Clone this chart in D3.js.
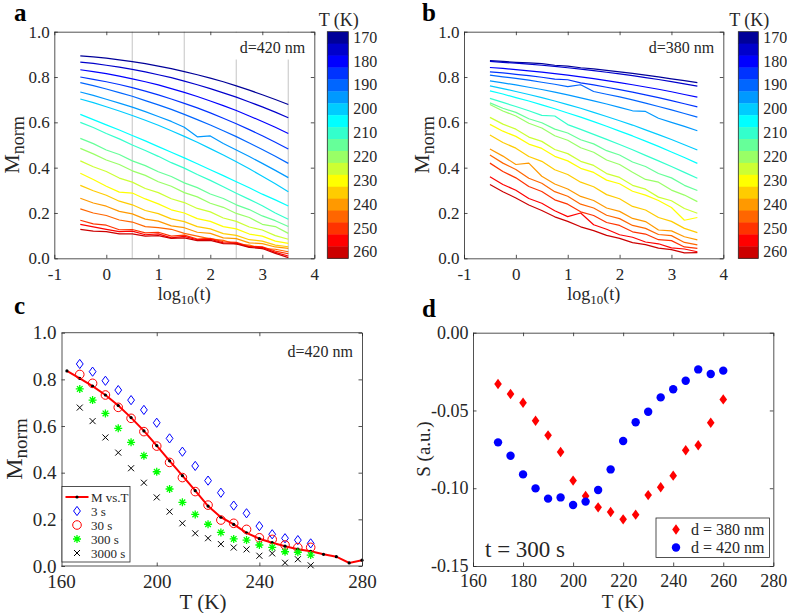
<!DOCTYPE html>
<html><head><meta charset="utf-8">
<script src="https://cdn.jsdelivr.net/npm/d3@7"></script>
<style>body{margin:0;background:#fff}</style>
</head><body><svg id="c" width="787" height="613"></svg>
<script>
// ---------------- DATA ----------------
const temps = [170,175,180,185,190,195,200,205,210,215,220,225,230,235,240,245,250,255,260];
const logT = [-0.5,-0.25,0,0.25,0.5,0.75,1,1.25,1.5,1.75,2,2.25,2.5,2.75,3,3.25,3.5];
// panel a, d = 420 nm  (one row per temperature)
const curvesA = [
 [.893,.889,.883,.876,.868,.859,.848,.837,.824,.810,.795,.779,.761,.742,.722,.701,.679],
 [.866,.860,.852,.844,.834,.823,.810,.797,.782,.766,.749,.730,.711,.690,.668,.645,.620],
 [.832,.824,.815,.804,.792,.779,.765,.749,.732,.714,.694,.674,.652,.628,.604,.578,.551],
 [.800,.790,.779,.767,.753,.738,.721,.703,.684,.664,.642,.618,.594,.568,.541,.512,.482],
 [.775,.762,.747,.731,.715,.696,.677,.657,.635,.612,.588,.563,.537,.509,.480,.450,.419],
 [.734,.719,.702,.685,.667,.647,.626,.604,.578,.536,.540,.507,.478,.449,.419,.388,.356],
 [.703,.687,.669,.650,.630,.609,.587,.563,.538,.512,.484,.456,.426,.395,.362,.329,.294],
 [.635,.612,.589,.566,.542,.518,.493,.468,.443,.417,.391,.365,.338,.311,.283,.258,.231],
 [.600,.577,.551,.527,.500,.476,.450,.422,.398,.370,.344,.316,.287,.260,.232,.200,.172],
 [.529,.506,.478,.458,.430,.409,.382,.361,.333,.312,.284,.264,.236,.215,.187,.166,.140],
 [.485,.461,.434,.414,.386,.366,.338,.318,.290,.271,.243,.225,.198,.180,.150,.140,.110],
 [.430,.404,.383,.354,.336,.308,.290,.263,.246,.220,.205,.178,.163,.138,.125,.100,.084],
 [.375,.348,.318,.292,.288,.262,.240,.214,.200,.175,.163,.140,.130,.107,.098,.076,.066],
 [.322,.298,.278,.252,.236,.211,.197,.174,.162,.140,.130,.109,.101,.082,.076,.058,.051],
 [.265,.244,.230,.207,.196,.173,.164,.143,.135,.115,.110,.090,.087,.068,.065,.050,.044],
 [.218,.200,.189,.169,.160,.140,.135,.128,.110,.098,.086,.079,.062,.058,.043,.040,.029],
 [.168,.152,.146,.126,.127,.112,.115,.098,.102,.085,.088,.073,.070,.053,.051,.032,.020],
 [.150,.139,.128,.118,.120,.104,.108,.090,.097,.082,.084,.068,.067,.050,.048,.026,.010],
 [.128,.120,.118,.108,.108,.098,.100,.088,.090,.078,.079,.065,.064,.048,.043,.022,.003]
];
// panel b, d = 380 nm
const curvesB = [
 [.872,.869,.865,.862,.859,.852,.848,.841,.836,.829,.823,.816,.808,.801,.792,.784,.775],
 [.869,.865,.861,.857,.852,.847,.841,.835,.828,.821,.814,.806,.797,.789,.780,.770,.760],
 [.842,.838,.833,.827,.822,.815,.808,.801,.793,.784,.775,.766,.756,.746,.735,.723,.711],
 [.823,.818,.812,.806,.799,.791,.788,.774,.765,.755,.744,.733,.721,.709,.696,.682,.668],
 [.808,.801,.794,.786,.777,.768,.758,.766,.736,.724,.712,.699,.685,.670,.655,.639,.623],
 [.783,.774,.765,.755,.745,.733,.721,.708,.695,.681,.666,.651,.648,.618,.600,.582,.563],
 [.761,.749,.736,.723,.709,.694,.678,.662,.644,.626,.607,.588,.567,.546,.524,.501,.478],
 [.739,.725,.709,.694,.677,.660,.641,.623,.603,.583,.561,.540,.517,.494,.469,.445,.419],
 [.706,.688,.670,.651,.631,.628,.590,.569,.547,.525,.502,.479,.454,.430,.405,.379,.353],
 [.686,.662,.644,.616,.598,.570,.553,.523,.505,.475,.456,.425,.405,.374,.355,.322,.299],
 [.679,.650,.628,.596,.575,.541,.521,.488,.468,.434,.414,.380,.348,.336,.301,.279,.250],
 [.622,.592,.570,.535,.516,.480,.462,.428,.410,.374,.357,.322,.305,.270,.254,.220,.199],
 [.591,.561,.538,.504,.485,.450,.430,.397,.379,.345,.329,.296,.279,.255,.224,.168,.180],
 [.544,.511,.486,.449,.428,.391,.370,.336,.316,.281,.263,.229,.213,.180,.163,.132,.113],
 [.482,.451,.414,.420,.362,.328,.306,.273,.255,.222,.207,.176,.162,.125,.121,.095,.081],
 [.456,.420,.392,.353,.331,.294,.274,.239,.222,.190,.175,.145,.132,.105,.100,.070,.059],
 [.420,.383,.355,.317,.295,.258,.239,.205,.189,.158,.145,.117,.107,.082,.078,.050,.044],
 [.360,.326,.300,.264,.243,.210,.184,.200,.148,.128,.104,.093,.072,.064,.046,.041,.029],
 [.326,.294,.266,.235,.211,.183,.163,.139,.122,.101,.088,.069,.060,.045,.038,.024,.025]
];
const logTicks = [-1,0,1,2,3,4];
const mTicks = [0,0.2,0.4,0.6,0.8,1.0];
const guideLogT = [0.5,1.5,2.5,3.5];
const cbLabels = [170,180,190,200,210,220,230,240,250,260];

// panel c
const tMvT = [165,170,175,180,185,190,195,200,205,210,215,220,225,230,235,240,245,250,255,260,265,270,275,280];
const mVsT = [.836,.804,.771,.733,.688,.636,.579,.516,.451,.387,.323,.257,.209,.178,.142,.117,.100,.085,.072,.063,.050,.040,.013,.025];
const tPts = [170,175,180,185,190,195,200,205,210,215,220,225,230,235,240,245,250,255,260];
const m3s    = [.866,.833,.794,.754,.711,.669,.614,.547,.490,.429,.366,.314,.259,.226,.171,.136,.119,.111,.097];
const m30s   = [.821,.783,.733,.680,.633,.576,.514,.444,.379,.319,.261,.197,.183,.157,.121,.114,.090,.079,.080];
const m300s  = [.759,.711,.654,.590,.530,.473,.404,.330,.273,.221,.179,.144,.116,.111,.090,.080,.061,.059,.047];
const m3000s = [.679,.621,.551,.486,.419,.357,.294,.233,.183,.140,.119,.094,.079,.071,.044,.054,.014,.029,.003];
const tTicksC = [160,200,240,280];

// panel d
const s380 = [-.0330,-.0394,-.0450,-.0566,-.0660,-.0767,-.0951,-.1050,-.1123,-.1153,-.1200,-.1170,-.1044,-.0994,-.0919,-.0756,-.0724,-.0579,-.0429];
const s420 = [-.0705,-.0791,-.0911,-.1001,-.1067,-.1059,-.1108,-.1086,-.1011,-.0879,-.0696,-.0576,-.0508,-.0416,-.0364,-.0309,-.0236,-.0266,-.0244];
const tTicksD = [160,180,200,220,240,260,280];
const sTicks = [0,-0.05,-0.10,-0.15];

// ---------------- STYLE ----------------
const SERIF = '"Liberation Serif","Times New Roman",serif';
const AX = '#262626';
const jet = ["#000099","#0000cc","#0000ff","#0033ff","#0066ff","#0099ff","#00ccff","#00ffff","#33ffcc","#66ff99","#99ff66","#ccff33","#ffff00","#ffcc00","#ff9900","#ff6600","#ff3300","#ff0000","#cc0000"];
const hy = f => d => f(d).replace('\u2212', '-');

const svg = d3.select('#c');
svg.append('rect').attr('width',787).attr('height',613).attr('fill','#fff');

function styleAxis(sel, fs) {
  sel.attr('font-family', SERIF);
  sel.selectAll('.domain').attr('stroke', AX).attr('stroke-width', 0.8);
  sel.selectAll('.tick line').attr('stroke', AX).attr('stroke-width', 0.8);
  sel.selectAll('.tick text').attr('font-family', SERIF).attr('font-size', fs).attr('fill', AX);
}
// frameX0: optional left edge of the drawn box (if it differs from the scale's range start)
function frame(g, x, y, xT, yT, xF, yF, fs, padX, padY, frameX0) {
  const tl = 3.5;
  const [sx0, x1] = x.range(); const x0 = frameX0 ?? sx0;
  const yb = y.range()[0], yt = y.range()[1];
  const bottom = g.append('g').attr('transform', `translate(0,${yb})`)
   .call(d3.axisBottom(x).tickValues(xT).tickFormat(xF).tickSizeInner(-tl).tickSizeOuter(0).tickPadding(padX)).call(styleAxis, fs);
  const top = g.append('g').attr('transform', `translate(0,${yt})`)
   .call(d3.axisTop(x).tickValues(xT).tickFormat('').tickSizeInner(-tl).tickSizeOuter(0)).call(styleAxis, fs);
  if (frameX0 !== undefined) {
    [bottom, top].forEach(a => {
      a.select('.domain').attr('d', `M${x0},0H${x1}`);
      a.selectAll('.tick').filter(d => x(d) < x0).each(function () {
        d3.select(this).attr('transform', `translate(${x0},0)`).select('line').remove();
      });
    });
  }
  g.append('g').attr('transform', `translate(${x0},0)`)
   .call(d3.axisLeft(y).tickValues(yT).tickFormat(yF).tickSizeInner(-tl).tickSizeOuter(0).tickPadding(padY)).call(styleAxis, fs);
  g.append('g').attr('transform', `translate(${x1},0)`)
   .call(d3.axisRight(y).tickValues(yT).tickFormat('').tickSizeInner(-tl).tickSizeOuter(0)).call(styleAxis, fs);
}
function txt(g, x, y, s, fs, opts = {}) {
  const t = g.append('text').attr('x', x).attr('y', y).attr('font-family', SERIF)
    .attr('font-size', fs).attr('fill', opts.fill || AX).text(s);
  if (opts.anchor) t.attr('text-anchor', opts.anchor);
  if (opts.weight) t.attr('font-weight', opts.weight);
  return t;
}
function mNormLabel(g, x, y, fs, fsSub) {
  const t = g.append('text').attr('transform', `translate(${x},${y}) rotate(-90)`)
    .attr('text-anchor', 'middle').attr('font-family', SERIF).attr('fill', AX).attr('font-size', fs);
  t.append('tspan').text('M');
  t.append('tspan').attr('font-size', fsSub).attr('dy', 5).text('norm');
}
function logLabel(g, x, y, fs, fsSub) {
  const t = g.append('text').attr('x', x).attr('y', y).attr('text-anchor', 'middle')
    .attr('font-family', SERIF).attr('fill', AX).attr('font-size', fs);
  t.append('tspan').text('log');
  t.append('tspan').attr('font-size', fsSub).attr('dy', 4).text('10');
  t.append('tspan').attr('dy', -4).text('(t)');
}

// ---------------- PANELS a & b ----------------
function decayPanel(opt) {
  const g = svg.append('g');
  const x = d3.scaleLinear().domain([-1, 4]).range([opt.x0, opt.x1]);
  const y = d3.scaleLinear().domain([0, 1]).range([258.3, 31.7]);
  if (opt.guides) {
    g.selectAll('line.guide').data(guideLogT).join('line')
      .attr('x1', d => x(d)).attr('x2', d => x(d)).attr('y1', y(1)).attr('y2', y(0))
      .attr('stroke', '#d2d2d2').attr('stroke-width', 1.3);
  }
  const line = d3.line().x((d, i) => x(logT[i])).y(d => y(d));
  g.selectAll('path.curve').data(opt.curves).join('path')
    .attr('d', line).attr('fill', 'none').attr('stroke', (d, i) => jet[i]).attr('stroke-width', 1.2)
    .attr('stroke-linejoin', 'round');
  // label box
  g.append('rect').attr('x', opt.boxX).attr('y', y(1) + 0.8).attr('width', x(4) - opt.boxX - 0.8).attr('height', 27).attr('fill', '#fff');
  txt(g, x(4) - 9, 53, opt.dlabel, 16, { anchor: 'end' });
  frame(g, x, y, logTicks, mTicks, hy(d3.format('d')), d3.format('.1f'), 17, 9.5, 4.5);
  mNormLabel(g, opt.x0 - 35, 145, 22, 18);
  logLabel(g, (opt.x0 + opt.x1) / 2, 300, 18, 13);
  txt(g, opt.letterX, 21, opt.letter, 25, { weight: 'bold', fill: '#000' });
  // colorbar
  const cb = d3.scaleBand().domain(temps).range([31.7, 258.3]);
  const cg = g.append('g');
  cg.selectAll('rect').data(temps).join('rect')
    .attr('x', opt.cbX).attr('y', d => cb(d)).attr('width', opt.cbW).attr('height', cb.bandwidth() + 0.4)
    .attr('fill', (d, i) => jet[i]);
  cg.append('rect').attr('x', opt.cbX).attr('y', 31.7).attr('width', opt.cbW).attr('height', 226.6)
    .attr('fill', 'none').attr('stroke', AX).attr('stroke-width', 0.8);
  const cbAxis = g.append('g').attr('transform', `translate(${opt.cbX + opt.cbW},0)`)
    .call(d3.axisRight(cb).tickValues(cbLabels).tickSize(0).tickPadding(5)).call(styleAxis, 16);
  cbAxis.select('.domain').remove();
  txt(g, opt.cbX + opt.cbW / 2 + 1, 26, 'T (K)', 18, { anchor: 'middle' });
}
decayPanel({ curves: curvesA, x0: 54.3, x1: 314.3, guides: true, dlabel: 'd=420 nm', boxX: 205,
  letter: 'a', letterX: 14, cbX: 327.3, cbW: 21 });
decayPanel({ curves: curvesB, x0: 464, x1: 723.3, guides: false, dlabel: 'd=380 nm', boxX: 640,
  letter: 'b', letterX: 422, cbX: 738.3, cbW: 20 });

// ---------------- PANEL c ----------------
{
  const g = svg.append('g');
  const x = d3.scaleLinear().domain([160, 280]).range([54.1, 362]);
  const y = d3.scaleLinear().domain([0, 1]).range([566, 332.7]);
  g.append('path').datum(mVsT).attr('d', d3.line().x((d, i) => x(tMvT[i])).y(d => y(d)))
    .attr('fill', 'none').attr('stroke', '#ff0000').attr('stroke-width', 2);
  g.selectAll('circle.dot').data(mVsT).join('circle').attr('cx', (d, i) => x(tMvT[i])).attr('cy', d => y(d))
    .attr('r', 1.6).attr('fill', '#000');
  const dia = (w, h) => `M0,${-h}L${w},0L0,${h}L${-w},0Z`;
  g.selectAll('path.d3s').data(m3s).join('path').attr('d', dia(3.4, 4.6))
    .attr('transform', (d, i) => `translate(${x(tPts[i])},${y(d)})`).attr('fill', 'none').attr('stroke', '#0000ff').attr('stroke-width', 1);
  g.selectAll('circle.c30').data(m30s).join('circle').attr('cx', (d, i) => x(tPts[i])).attr('cy', d => y(d))
    .attr('r', 4.3).attr('fill', 'none').attr('stroke', '#ff0000').attr('stroke-width', 1);
  const star = 'M-4,0L4,0M0,-4L0,4M-2.8,-2.8L2.8,2.8M-2.8,2.8L2.8,-2.8';
  g.selectAll('path.s300').data(m300s).join('path').attr('d', star)
    .attr('transform', (d, i) => `translate(${x(tPts[i])},${y(d)})`).attr('fill', 'none').attr('stroke', '#00ff00').attr('stroke-width', 1.3);
  const cross = 'M-3,-3L3,3M-3,3L3,-3';
  g.selectAll('path.x3000').data(m3000s).join('path').attr('d', cross)
    .attr('transform', (d, i) => `translate(${x(tPts[i])},${y(d)})`).attr('fill', 'none').attr('stroke', '#000').attr('stroke-width', 1);
  frame(g, x, y, tTicksC, mTicks, d3.format('d'), d3.format('.1f'), 19, 9, 5, 61.5);
  txt(g, 353, 357, 'd=420 nm', 16, { anchor: 'end' });
  mNormLabel(g, 22, 449, 24, 19);
  txt(g, 203, 609, 'T (K)', 21, { anchor: 'middle' });
  txt(g, 14, 314, 'c', 25, { weight: 'bold', fill: '#000' });
  // legend
  const lg = g.append('g');
  lg.append('rect').attr('x', 62).attr('y', 486.5).attr('width', 68).attr('height', 75.5)
    .attr('fill', '#fff').attr('stroke', AX).attr('stroke-width', 0.8);
  const ly = [497, 511, 525, 539, 553];
  const lx = 77;
  lg.append('line').attr('x1', 65.5).attr('x2', 88.5).attr('y1', ly[0]).attr('y2', ly[0]).attr('stroke', '#ff0000').attr('stroke-width', 2);
  lg.append('circle').attr('cx', lx).attr('cy', ly[0]).attr('r', 1.6).attr('fill', '#000');
  lg.append('path').attr('d', dia(3.4, 4.6)).attr('transform', `translate(${lx},${ly[1]})`).attr('fill', 'none').attr('stroke', '#0000ff');
  lg.append('circle').attr('cx', lx).attr('cy', ly[2]).attr('r', 4.3).attr('fill', 'none').attr('stroke', '#ff0000');
  lg.append('path').attr('d', star).attr('transform', `translate(${lx},${ly[3]})`).attr('stroke', '#00ff00').attr('stroke-width', 1.3);
  lg.append('path').attr('d', cross).attr('transform', `translate(${lx},${ly[4]})`).attr('stroke', '#000');
  ['M vs.T', '3 s', '30 s', '300 s', '3000 s'].forEach((s, i) => txt(lg, 91, ly[i] + 4.5, s, 13));
}

// ---------------- PANEL d ----------------
{
  const g = svg.append('g');
  const x = d3.scaleLinear().domain([160, 280]).range([473, 773.3]);
  const y = d3.scaleLinear().domain([-0.15, 0]).range([566, 332.7]);
  const dia = (w, h) => `M0,${-h}L${w},0L0,${h}L${-w},0Z`;
  g.selectAll('path.r380').data(s380).join('path').attr('d', dia(3.8, 5.2))
    .attr('transform', (d, i) => `translate(${x(tPts[i])},${y(d)})`).attr('fill', '#ff0000');
  g.selectAll('circle.b420').data(s420).join('circle').attr('cx', (d, i) => x(tPts[i])).attr('cy', d => y(d))
    .attr('r', 4.2).attr('fill', '#0000ff');
  frame(g, x, y, tTicksD, sTicks, d3.format('d'), d => d === 0 ? '0.00' : hy(d3.format('.2f'))(d), 18, 8.5, 4.5);
  txt(g, 485, 557, 't = 300 s', 23);
  g.append('text').attr('transform', 'translate(430,449) rotate(-90)').attr('text-anchor', 'middle')
    .attr('font-family', SERIF).attr('font-size', 19).attr('fill', AX).text('S (a.u.)');
  txt(g, 623, 608, 'T (K)', 19, { anchor: 'middle' });
  txt(g, 422, 317, 'd', 25, { weight: 'bold', fill: '#000' });
  const lg = g.append('g');
  lg.append('rect').attr('x', 656).attr('y', 518).attr('width', 113.5).attr('height', 39.5)
    .attr('fill', '#fff').attr('stroke', AX).attr('stroke-width', 0.8);
  lg.append('path').attr('d', dia(3.8, 5.2)).attr('transform', 'translate(676,529.5)').attr('fill', '#ff0000');
  lg.append('circle').attr('cx', 676).attr('cy', 547.5).attr('r', 4.2).attr('fill', '#0000ff');
  txt(lg, 691, 535, 'd = 380 nm', 16);
  txt(lg, 691, 553, 'd = 420 nm', 16);
}
</script>
</body></html>
